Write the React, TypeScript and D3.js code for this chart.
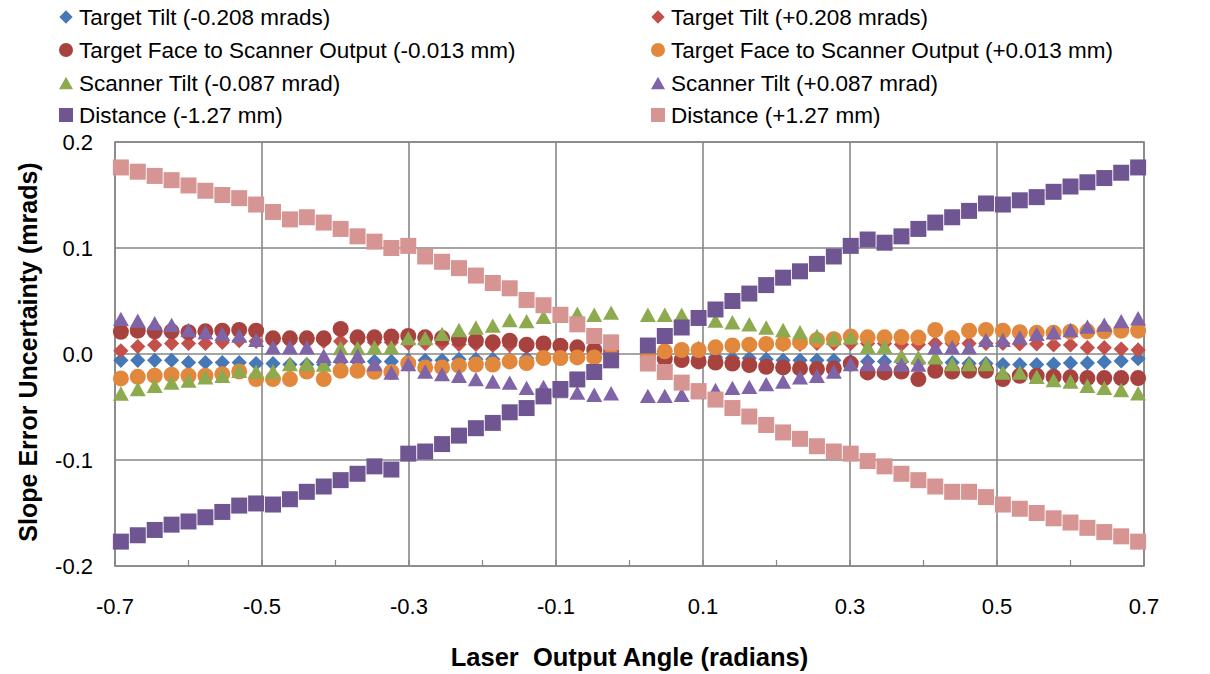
import React from 'react';
import * as d3 from 'd3';

// Laser output angle (radians) for each sample
const angles = [
  -0.692, -0.669, -0.646, -0.623, -0.600, -0.577, -0.554, -0.531, -0.508, -0.485,
  -0.462, -0.439, -0.416, -0.393, -0.370, -0.347, -0.324, -0.301, -0.278, -0.255,
  -0.232, -0.209, -0.186, -0.163, -0.140, -0.117, -0.094, -0.071, -0.048, -0.025,
  0.025, 0.048, 0.071, 0.094, 0.117, 0.140, 0.163, 0.186, 0.209, 0.232,
  0.255, 0.278, 0.301, 0.324, 0.347, 0.370, 0.393, 0.416, 0.439, 0.462,
  0.485, 0.508, 0.531, 0.554, 0.577, 0.600, 0.623, 0.646, 0.669, 0.692,
];

const targetTiltNeg = [
  -0.006, -0.006, -0.006, -0.006, -0.008, -0.008, -0.008, -0.008, -0.009, -0.009,
  -0.010, -0.010, -0.010, -0.007, -0.007, -0.007, -0.007, -0.006, -0.006, -0.006,
  -0.005, -0.005, -0.005, -0.005, -0.004, -0.004, -0.004, -0.003, -0.003, -0.002,
  -0.002, -0.003, -0.003, -0.003, -0.003, -0.004, -0.004, -0.005, -0.006, -0.006,
  -0.006, -0.006, -0.007, -0.007, -0.007, -0.007, -0.008, -0.008, -0.008, -0.009,
  -0.009, -0.010, -0.010, -0.010, -0.0095, -0.0085, -0.0085, -0.0075, -0.0065, -0.0045,
];

const targetTiltPos = [
  0.003, 0.007, 0.0085, 0.010, 0.010, 0.010, 0.011, 0.0125, 0.012, 0.012,
  0.012, 0.012, 0.012, 0.012, 0.012, 0.011, 0.011, 0.010, 0.010, 0.010,
  0.009, 0.009, 0.008, 0.008, 0.007, 0.006, 0.005, 0.004, 0.003, 0.002,
  0.002, 0.003, 0.004, 0.005, 0.006, 0.007, 0.008, 0.008, 0.009, 0.009,
  0.010, 0.010, 0.010, 0.010, 0.010, 0.009, 0.009, 0.010, 0.010, 0.010,
  0.010, 0.010, 0.0095, 0.0095, 0.0085, 0.0085, 0.006, 0.006, 0.0047, 0.0038,
];

const faceNeg = [
  0.021, 0.022, 0.0214, 0.0214, 0.0205, 0.0214, 0.022, 0.0227, 0.022, 0.0148,
  0.0148, 0.0148, 0.0148, 0.0237, 0.0157, 0.0157, 0.0164, 0.017, 0.0157, 0.015,
  0.014, 0.0126, 0.011, 0.0126, 0.0088, 0.010, 0.0079, 0.0063, 0.0038, 0.003,
  -0.003, -0.0047, -0.0057, -0.007, -0.008, -0.009, -0.0104, -0.012, -0.0127, -0.0136,
  -0.0142, -0.0136, -0.009, -0.0174, -0.0174, -0.0165, -0.0237, -0.0158, -0.0165, -0.0158,
  -0.0158, -0.0237, -0.0205, -0.0205, -0.0215, -0.022, -0.0227, -0.0227, -0.0227, -0.0227,
];

const facePos = [
  -0.023, -0.0215, -0.0205, -0.0196, -0.0205, -0.0205, -0.019, -0.0165, -0.0237, -0.0237,
  -0.0237, -0.0165, -0.0237, -0.0158, -0.0158, -0.0168, -0.017, -0.009, -0.0127, -0.0127,
  -0.011, -0.010, -0.010, -0.007, -0.0085, -0.0038, -0.0038, -0.0032, -0.0032, -0.002,
  0.002, 0.0025, 0.0038, 0.0038, 0.0063, 0.008, 0.0088, 0.0095, 0.010, 0.011,
  0.0133, 0.014, 0.0164, 0.0157, 0.0157, 0.016, 0.0155, 0.0227, 0.015, 0.022,
  0.0227, 0.022, 0.0205, 0.020, 0.020, 0.021, 0.0214, 0.0214, 0.022, 0.022,
];

const scannerNeg = [
  -0.0373, -0.033, -0.030, -0.027, -0.025, -0.022, -0.0205, -0.0158, -0.0165, -0.0165,
  -0.0095, -0.0095, -0.010, 0.0057, 0.0057, 0.0063, 0.0063, 0.015, 0.015, 0.019,
  0.0227, 0.025, 0.0268, 0.032, 0.031, 0.035, 0.036, 0.038, 0.037, 0.039,
  0.037, 0.037, 0.037, 0.034, 0.0315, 0.030, 0.028, 0.025, 0.0227, 0.0205,
  0.017, 0.015, 0.0157, 0.007, 0.007, -0.0016, -0.003, -0.003, -0.0095, -0.0095,
  -0.0095, -0.0174, -0.0174, -0.0215, -0.0246, -0.026, -0.030, -0.032, -0.034, -0.037,
];

const scannerPos = [
  0.0331, 0.0315, 0.029, 0.0275, 0.0227, 0.0205, 0.019, 0.0173, 0.0133, 0.0063,
  0.0063, 0.0063, -0.0016, -0.0016, -0.0016, -0.0095, -0.0174, -0.0095, -0.0165, -0.019,
  -0.0205, -0.0237, -0.026, -0.027, -0.032, -0.031, -0.035, -0.0364, -0.0385, -0.037,
  -0.0395, -0.0395, -0.0385, -0.036, -0.034, -0.032, -0.031, -0.0284, -0.026, -0.022,
  -0.0205, -0.0165, -0.0095, -0.0095, -0.0095, -0.010, -0.010, 0.0063, 0.0063, 0.0063,
  0.0133, 0.0133, 0.0157, 0.019, 0.0205, 0.0227, 0.0258, 0.0277, 0.031, 0.0337,
];

const distanceNeg = [
  -0.177, -0.171, -0.166, -0.161, -0.158, -0.154, -0.149, -0.143, -0.141, -0.142,
  -0.137, -0.130, -0.125, -0.119, -0.113, -0.106, -0.109, -0.094, -0.092, -0.085,
  -0.077, -0.070, -0.065, -0.055, -0.051, -0.040, -0.033, -0.024, -0.017, -0.006,
  0.008, 0.017, 0.025, 0.034, 0.042, 0.050, 0.057, 0.065, 0.072, 0.078,
  0.085, 0.092, 0.102, 0.108, 0.105, 0.111, 0.118, 0.124, 0.129, 0.135,
  0.142, 0.141, 0.145, 0.148, 0.153, 0.158, 0.162, 0.166, 0.171, 0.176,
];

const distancePos = [
  0.176, 0.172, 0.168, 0.164, 0.159, 0.154, 0.150, 0.147, 0.141, 0.134,
  0.127, 0.129, 0.124, 0.118, 0.111, 0.106, 0.100, 0.102, 0.092, 0.087,
  0.081, 0.074, 0.067, 0.062, 0.051, 0.046, 0.037, 0.028, 0.017, 0.011,
  -0.009, -0.017, -0.027, -0.035, -0.043, -0.051, -0.059, -0.067, -0.074, -0.080,
  -0.087, -0.092, -0.094, -0.101, -0.106, -0.113, -0.119, -0.125, -0.130, -0.130,
  -0.135, -0.142, -0.146, -0.150, -0.155, -0.159, -0.164, -0.168, -0.172, -0.177,
];

const seriesNames = [
  'Target Tilt (-0.208 mrads)',
  'Target Tilt (+0.208 mrads)',
  'Target Face to Scanner Output (-0.013 mm)',
  'Target Face to Scanner Output (+0.013 mm)',
  'Scanner Tilt (-0.087 mrad)',
  'Scanner Tilt (+0.087 mrad)',
  'Distance (-1.27 mm)',
  'Distance (+1.27 mm)',
];
const seriesValues = [
  targetTiltNeg, targetTiltPos, faceNeg, facePos,
  scannerNeg, scannerPos, distanceNeg, distancePos,
];
const seriesColors = [
  '#4677B6', '#C4504C', '#A8423F', '#E2883D',
  '#8DAB4E', '#8064A8', '#6F5692', '#D69492',
];
const seriesShapes = ['diamond', 'diamond', 'circle', 'circle', 'triangle', 'triangle', 'square', 'square'];

const xTicks = [-0.7, -0.5, -0.3, -0.1, 0.1, 0.3, 0.5, 0.7];
const xMinorTicks = [-0.7, -0.6, -0.5, -0.4, -0.3, -0.2, -0.1, 0, 0.1, 0.2, 0.3, 0.4, 0.5, 0.6, 0.7];
const yTicks = [-0.2, -0.1, 0.0, 0.1, 0.2];

function markerPath(shape: string, s: number): string {
  const h = s / 2;
  if (shape === 'diamond') {
    const d = h * 0.95;
    return `M0,${-d}L${d},0L0,${d}L${-d},0Z`;
  }
  if (shape === 'triangle') {
    const th = h * 0.9;
    return `M0,${-th}L${h},${th}L${-h},${th}Z`;
  }
  if (shape === 'square') {
    return `M${-h},${-h}H${h}V${h}H${-h}Z`;
  }
  const r = h;
  return `M${r},0A${r},${r} 0 1,1 ${-r},0A${r},${r} 0 1,1 ${r},0Z`;
}

export default function App() {
  const W = 1210;
  const H = 674;
  const left = 115;
  const right = 1144;
  const top = 142;
  const bottom = 566;
  const x = d3.scaleLinear().domain([-0.7, 0.7]).range([left, right]);
  const y = d3.scaleLinear().domain([-0.2, 0.2]).range([bottom, top]);
  const grid = '#878787';
  const font = "'Liberation Sans', Arial, sans-serif";

  const legendRows = [17, 50, 83, 115];
  const legendCols = [66, 658];

  return (
    <svg width={W} height={H} style={{ position: 'absolute', left: 0, top: 0, background: '#fff' }}>
      <rect x={0} y={0} width={W} height={H} fill="#fff" />
      {/* gridlines */}
      {yTicks.map((t) => (
        <line key={'hy' + t} x1={left} x2={right} y1={y(t)} y2={y(t)} stroke={grid} strokeWidth={1.6} />
      ))}
      {xTicks.map((t) => (
        <line key={'vx' + t} x1={x(t)} x2={x(t)} y1={top} y2={bottom} stroke={grid} strokeWidth={1.6} />
      ))}
      <rect x={left} y={top} width={right - left} height={bottom - top} fill="none" stroke={grid} strokeWidth={1.6} />
      {xMinorTicks.map((t) => (
        <line key={'mt' + t} x1={x(t)} x2={x(t)} y1={bottom} y2={bottom - 6} stroke={grid} strokeWidth={1.2} />
      ))}
      {/* data */}
      {seriesValues.map((vals, si) => (
        <g key={'s' + si} fill={seriesColors[si]}>
          {vals.map((v, i) => (
            <path
              key={i}
              transform={`translate(${x(angles[i])},${y(v)})`}
              d={markerPath(seriesShapes[si], 16)}
            />
          ))}
        </g>
      ))}
      {/* y tick labels */}
      {yTicks.map((t) => (
        <text key={'yl' + t} x={93} y={y(t)} dy="0.36em" textAnchor="end" fontFamily={font} fontSize={22} fill="#000">
          {t.toFixed(1)}
        </text>
      ))}
      {/* x tick labels */}
      {xTicks.map((t) => (
        <text key={'xl' + t} x={x(t)} y={614} textAnchor="middle" fontFamily={font} fontSize={22} fill="#000">
          {t.toFixed(1)}
        </text>
      ))}
      {/* axis titles */}
      <text
        x={(left + right) / 2}
        y={666}
        textAnchor="middle"
        fontFamily={font}
        fontWeight="bold"
        fontSize={25.5}
        fill="#000"
        style={{ whiteSpace: 'pre' }}
      >
        {'Laser  Output Angle (radians)'}
      </text>
      <text
        transform={`translate(37,${(top + bottom) / 2 - 2}) rotate(-90)`}
        textAnchor="middle"
        fontFamily={font}
        fontWeight="bold"
        fontSize={25}
        fill="#000"
      >
        Slope Error Uncertainty (mrads)
      </text>
      {/* legend */}
      {seriesNames.map((name, i) => {
        const col = i % 2;
        const row = Math.floor(i / 2);
        const cx = legendCols[col];
        const cy = legendRows[row];
        return (
          <g key={'lg' + i}>
            <path transform={`translate(${cx},${cy})`} d={markerPath(seriesShapes[i], 14)} fill={seriesColors[i]} />
            <text x={cx + 13} y={cy} dy="0.36em" fontFamily={font} fontSize={22.5} fill="#000">
              {name}
            </text>
          </g>
        );
      })}
    </svg>
  );
}
